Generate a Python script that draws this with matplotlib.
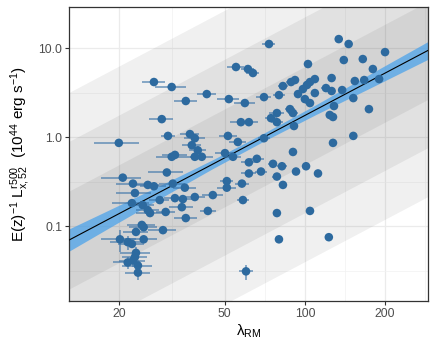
import numpy as np
import matplotlib
matplotlib.use("Agg")
import matplotlib.pyplot as plt
from matplotlib.ticker import FixedLocator, NullFormatter

plt.rcParams['font.family'] = ['Liberation Sans', 'DejaVu Sans']
plt.rcParams['mathtext.fontset'] = 'custom'
plt.rcParams['mathtext.rm'] = 'Liberation Sans'
plt.rcParams['mathtext.it'] = 'Liberation Sans:italic'

# richness, luminosity and their errors
lam = [27.1, 31.6, 35.7, 29.0, 30.6, 37.0, 20.0, 37.6, 73.3, 55.1,
       61.1, 63.8, 102.7, 42.8, 51.8, 59.5, 70.2, 79.9, 82.7, 88.7,
       91.8, 94.2, 98.3, 101.8, 100.0, 78.5, 74.6, 78.5, 87.9, 90.2,
       91.0, 57.5, 61.6, 38.6, 51.4, 56.0, 70.2, 134, 146, 200,
       140, 165, 180, 126, 154, 167, 190, 109, 104.5, 120,
       126, 138, 109, 104.5, 152, 128.6, 174, 124, 127.5, 152,
       127.5, 32.5, 31.6, 30.3, 20.7, 22.6, 25.7, 27.1, 31.9, 35.4,
       23.0, 28.5, 32.5, 34.8, 22.4, 24.6, 25.7, 26.2, 30.0, 34.5,
       35.7, 24.4, 24.8, 23.2, 29.3, 20.2, 24.8, 21.6, 22.4, 23.2,
       23.0, 22.6, 21.6, 23.6, 23.6, 39.6, 41.0, 38.6, 50.1, 53.7,
       90.2, 61.6, 66.0, 75.9, 82.0, 101, 92.6, 68.4, 61.6, 78.5,
       82.7, 58.0, 50.9, 50.9, 45.1, 58.5, 38.6, 43.2, 78.5, 104.5,
       79.9, 60.1, 112, 123]
lum = [4.15, 3.65, 2.54, 1.59, 1.03, 1.08, 0.86, 0.81, 11.1, 6.12,
       5.81, 5.24, 6.61, 3.04, 2.67, 2.41, 2.81, 2.96, 3.74, 4.15,
       4.37, 3.04, 3.46, 3.84, 2.67, 1.86, 1.63, 1.47, 2.06, 1.86,
       1.33, 1.47, 1.47, 0.97, 1.03, 0.88, 0.97, 12.6, 11.1, 9.0,
       7.33, 7.52, 5.81, 4.60, 4.26, 4.37, 4.48, 4.48, 4.15, 3.55,
       3.29, 3.37, 3.12, 2.41, 2.74, 2.23, 2.06, 1.77, 1.68, 1.03,
       0.86, 0.63, 0.60, 0.40, 0.35, 0.30, 0.29, 0.28, 0.30, 0.27,
       0.235, 0.196, 0.206, 0.201, 0.181, 0.172, 0.151, 0.140, 0.144, 0.163,
       0.123, 0.103, 0.097, 0.086, 0.090, 0.071, 0.071, 0.066, 0.063, 0.050,
       0.045, 0.041, 0.039, 0.036, 0.030, 0.71, 0.60, 0.60, 0.66, 0.60,
       0.68, 0.52, 0.57, 0.50, 0.47, 0.47, 0.41, 0.41, 0.39, 0.36,
       0.29, 0.30, 0.32, 0.27, 0.223, 0.196, 0.212, 0.148, 0.140, 0.148,
       0.071, 0.031, 0.39, 0.075]
lam_err = [2.7, 4.3, 3.5, 3.0, 1.8, 3.0, 3.8, 3.0, 4.0, 4.0,
           3.5, 3.5, 3.0, 3.5, 5.0, 5.5, 4.5, 4.0, 3.5, 3.5,
           3.5, 3.5, 3.0, 3.0, 3.0, 5.0, 4.0, 4.0, 4.0, 4.0,
           3.0, 5.0, 5.0, 3.5, 4.0, 4.0, 3.5, 2.0, 2.0, 3.0,
           3.0, 3.0, 3.0, 3.0, 3.0, 3.0, 3.0, 4.0, 4.0, 5.0,
           4.0, 3.0, 4.0, 4.0, 3.0, 3.0, 3.0, 3.0, 3.0, 2.0,
           3.0, 3.5, 4.0, 4.5, 3.5, 3.0, 2.5, 3.0, 3.5, 3.5,
           3.5, 2.5, 3.0, 3.0, 3.5, 2.5, 2.5, 3.0, 2.5, 3.5,
           3.5, 3.0, 3.0, 2.5, 3.5, 3.0, 3.0, 3.0, 2.5, 3.0,
           2.5, 2.5, 2.5, 3.0, 2.5, 3.0, 4.0, 3.0, 4.0, 4.0,
           3.0, 4.0, 4.0, 3.0, 3.5, 3.0, 3.0, 3.5, 4.0, 3.0,
           3.0, 3.5, 3.0, 4.0, 4.0, 3.0, 3.5, 3.0, 2.0, 2.0,
           3.0, 3.5, 2.0, 2.0]
lum_err = [0.1, 0.1, 0.08, 0.05, 0.04, 0.04, 0.03, 0.03, 0.3, 0.15,
           0.15, 0.12, 0.15, 0.08, 0.07, 0.06, 0.07, 0.07, 0.08, 0.1,
           0.1, 0.07, 0.08, 0.08, 0.06, 0.05, 0.04, 0.04, 0.05, 0.05,
           0.04, 0.04, 0.04, 0.03, 0.03, 0.03, 0.03, 0.3, 0.3, 0.2,
           0.2, 0.2, 0.15, 0.1, 0.1, 0.1, 0.1, 0.1, 0.1, 0.08,
           0.08, 0.08, 0.07, 0.06, 0.06, 0.05, 0.05, 0.04, 0.04, 0.03,
           0.03, 0.02, 0.02, 0.015, 0.015, 0.012, 0.012, 0.01, 0.01, 0.01,
           0.01, 0.01, 0.01, 0.01, 0.01, 0.01, 0.008, 0.008, 0.008, 0.008,
           0.008, 0.008, 0.008, 0.008, 0.008, 0.02, 0.006, 0.012, 0.006, 0.008,
           0.008, 0.006, 0.006, 0.006, 0.005, 0.02, 0.02, 0.02, 0.02, 0.02,
           0.02, 0.02, 0.02, 0.015, 0.015, 0.015, 0.015, 0.015, 0.015, 0.012,
           0.01, 0.01, 0.01, 0.01, 0.01, 0.008, 0.008, 0.006, 0.006, 0.006,
           0.004, 0.006, 0.012, 0.004]

# best-fit relation L = norm * (lam / pivot)^slope, scatter in dex
fit_norm = 0.78
fit_pivot = 60.0
fit_slope = 1.58
sigma_dex = 0.55
# half-width (dex) of the fit uncertainty band along lambda
band_lam = [13, 20, 30, 45, 70, 110, 180, 290]
band_dex = [0.125, 0.095, 0.07, 0.05, 0.045, 0.055, 0.08, 0.10]

xlim = (13.0, 290.0)
ylim = (0.0144, 28.9)

fig = plt.figure(figsize=(4.36, 3.49), dpi=100)
ax = fig.add_axes([69 / 436, 1 - 301 / 349, 359 / 436, 294 / 349])

grid = np.logspace(np.log10(xlim[0]), np.log10(xlim[1]), 300)
fit = fit_norm * (grid / fit_pivot) ** fit_slope
for k in (3, 2, 1):
    ax.fill_between(grid, fit * 10 ** (-k * sigma_dex), fit * 10 ** (k * sigma_dex),
                    color='black', alpha=0.06, lw=0, zorder=1)

hw = np.interp(np.log10(grid), np.log10(band_lam), band_dex)
ax.fill_between(grid, fit * 10 ** (-hw), fit * 10 ** hw,
                color='#4DA3EA', alpha=0.75, lw=0, zorder=2)
ax.plot(grid, fit, color='black', lw=0.8, zorder=3)

ax.errorbar(lam, lum, xerr=lam_err, yerr=lum_err, fmt='none',
            ecolor='#3A73A8', elinewidth=1.1, alpha=0.75, capsize=0, zorder=4)
ax.scatter(lam, lum, s=38, color='#2D6A9F', edgecolors='none', zorder=5)

ax.set_xscale('log')
ax.set_yscale('log')
ax.set_xlim(*xlim)
ax.set_ylim(*ylim)

ax.xaxis.set_major_locator(FixedLocator([20, 50, 100, 200]))
ax.xaxis.set_minor_locator(FixedLocator([31.6, 70.7, 141.4, 282.8]))
ax.set_xticklabels(['20', '50', '100', '200'])
ax.xaxis.set_minor_formatter(NullFormatter())
ax.yaxis.set_major_locator(FixedLocator([0.1, 1.0, 10.0]))
ax.yaxis.set_minor_locator(FixedLocator([0.0316, 0.316, 3.16]))
ax.set_yticklabels(['0.1', '1.0', '10.0'])
ax.yaxis.set_minor_formatter(NullFormatter())

ax.grid(which='major', color='#EBEBEB', lw=0.9, zorder=0)
ax.grid(which='minor', color='#F2F2F2', lw=0.5, zorder=0)
ax.set_axisbelow(True)
for sp in ax.spines.values():
    sp.set_color('#333333')
    sp.set_linewidth(0.9)
ax.tick_params(which='major', length=2.75, width=0.8, color='#333333',
               labelsize=8.8, labelcolor='#4D4D4D', pad=2)
ax.tick_params(which='minor', length=0)

ax.set_xlabel(r'λ$_{\mathrm{RM}}$', fontsize=11, labelpad=2)
ax.set_ylabel(r'$\mathrm{E(z)^{-1}\ L_{x,52}^{r500}\ \ (10^{44}\ erg\ s^{-1})}$',
              fontsize=11, labelpad=4)

fig.savefig('out.png', dpi=100)
